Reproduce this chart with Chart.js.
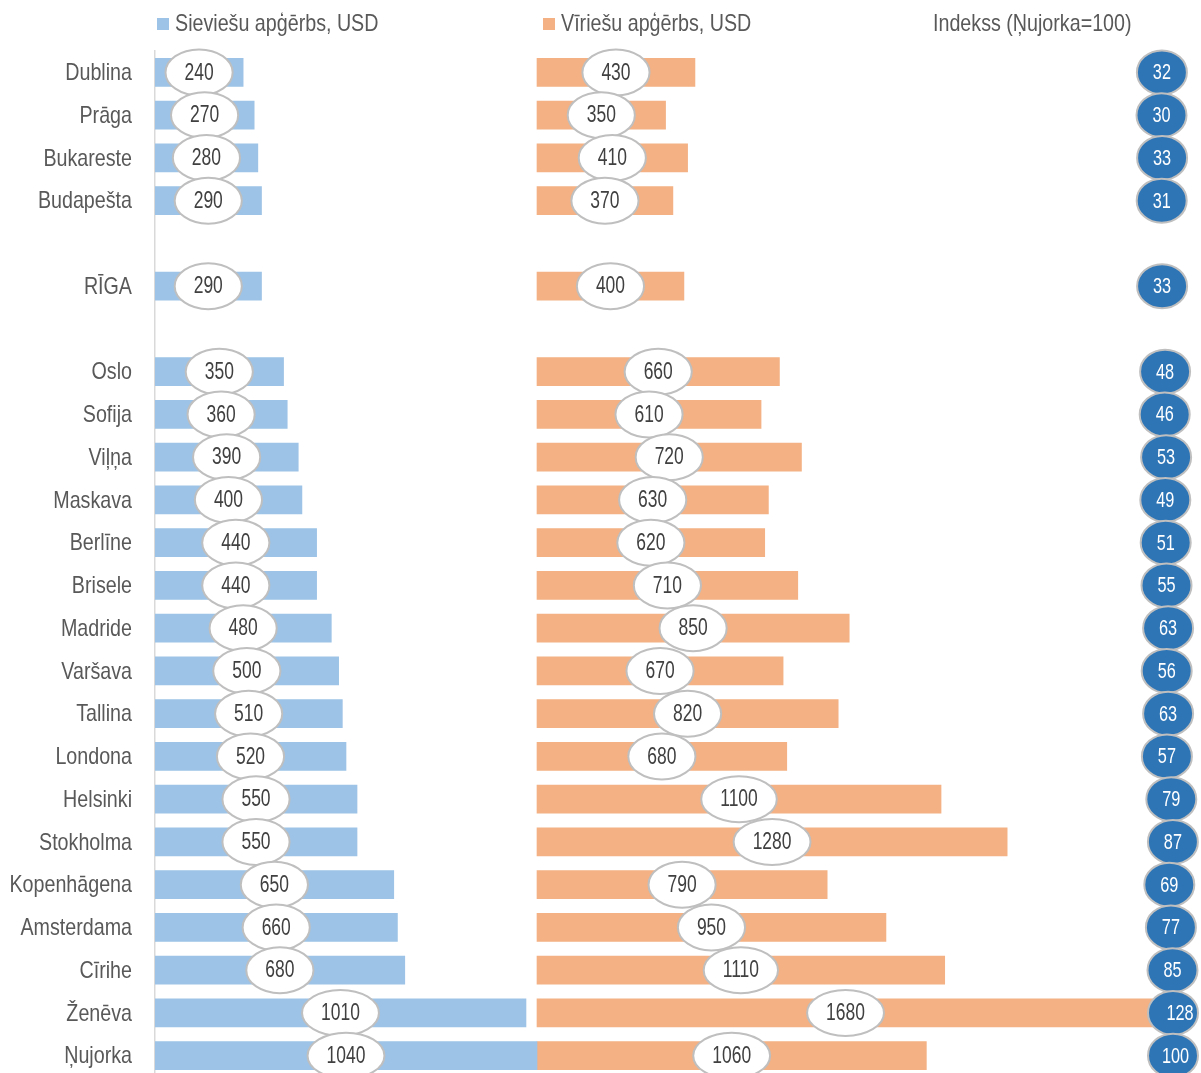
<!DOCTYPE html>
<html>
<head>
<meta charset="utf-8">
<script src="https://cdn.jsdelivr.net/npm/chart.js@4.4.1/dist/chart.umd.min.js"></script>
<style>
  html, body { margin: 0; padding: 0; background: #ffffff; overflow: hidden; }
  #wrap { width: 1201px; height: 1077px; }
</style>
</head>
<body>
<div id="wrap"><canvas id="c" width="1201" height="1077"></canvas></div>
<script>
// ---- data ----
const categories = ['Dublina', 'Prāga', 'Bukareste', 'Budapešta', '', 'RĪGA', '', 'Oslo', 'Sofija', 'Viļņa',
  'Maskava', 'Berlīne', 'Brisele', 'Madride', 'Varšava', 'Tallina', 'Londona', 'Helsinki', 'Stokholma',
  'Kopenhāgena', 'Amsterdama', 'Cīrihe', 'Ženēva', 'Ņujorka'];
const womenUSD = [240, 270, 280, 290, null, 290, null, 350, 360, 390, 400, 440, 440, 480, 500, 510, 520, 550, 550,
  650, 660, 680, 1010, 1040];
const menUSD = [430, 350, 410, 370, null, 400, null, 660, 610, 720, 630, 620, 710, 850, 670, 820, 680, 1100, 1280,
  790, 950, 1110, 1680, 1060];
const indexNY = [32, 30, 33, 31, null, 33, null, 48, 46, 53, 49, 51, 55, 63, 56, 63, 57, 79, 87,
  69, 77, 85, 128, 100];
const seriesNames = ['Sieviešu apģērbs, USD', 'Vīriešu apģērbs, USD', 'Indekss (Ņujorka=100)'];

// ---- styles ----
const FONT = "'Liberation Sans', Arial, sans-serif";
const BLUE = '#9DC3E6', ORANGE = '#F4B183', DARK = '#2E75B6', GREY = '#595959';

// narrow text (Arial Narrow look): horizontally condensed glyphs
function narrowText(ctx, text, x, y, size, sx, align, color) {
  ctx.save();
  ctx.font = size + 'px ' + FONT;
  ctx.textBaseline = 'middle';
  ctx.textAlign = align;
  ctx.fillStyle = color;
  ctx.translate(x, y);
  ctx.scale(sx, 1);
  ctx.fillText(text, 0, 0);
  ctx.restore();
}
function narrowWidth(ctx, text, size, sx) {
  ctx.save();
  ctx.font = size + 'px ' + FONT;
  const w = ctx.measureText(text).width * sx;
  ctx.restore();
  return w;
}

const ovalLabels = {
  id: 'ovalLabels',
  afterDatasetsDraw(chart) {
    const ctx = chart.ctx;
    [0, 1].forEach(di => {
      const meta = chart.getDatasetMeta(di);
      const data = chart.data.datasets[di].data;
      meta.data.forEach((el, i) => {
        const v = data[i];
        if (v == null) return;
        const cx = (el.x + el.base) / 2, cy = el.y;
        const t = String(v);
        const w = narrowWidth(ctx, t, 23, 0.76) + 38;
        ctx.save();
        ctx.beginPath();
        ctx.ellipse(cx, cy, w / 2, 23, 0, 0, Math.PI * 2);
        ctx.fillStyle = '#ffffff';
        ctx.fill();
        ctx.lineWidth = 2;
        ctx.strokeStyle = '#BFBFBF';
        ctx.stroke();
        ctx.restore();
        narrowText(ctx, t, cx, cy + 1, 23, 0.76, 'center', '#404040');
      });
    });
    const meta = chart.getDatasetMeta(2);
    const data = chart.data.datasets[2].data;
    const right = chart.chartArea.right;
    meta.data.forEach((el, i) => {
      const v = data[i];
      if (v == null) return;
      const cy = el.y;
      const ex = Math.min(el.x, right - 28);
      const tx = Math.min(el.x, right - 21);
      ctx.save();
      ctx.beginPath();
      ctx.ellipse(ex, cy, 25, 22, 0, 0, Math.PI * 2);
      ctx.fillStyle = DARK;
      ctx.fill();
      ctx.lineWidth = 2;
      ctx.strokeStyle = '#BFBFBF';
      ctx.stroke();
      ctx.restore();
      narrowText(ctx, String(v), tx, cy + 1, 22, 0.74, 'center', '#ffffff');
    });
  }
};

const catLabels = {
  id: 'catLabels',
  afterDraw(chart) {
    const ys = chart.scales.y;
    ys.ticks.forEach((tk, i) => {
      const label = ys.getLabelForValue(tk.value);
      if (!label) return;
      narrowText(chart.ctx, label, ys.right - 23, ys.getPixelForTick(i) + 1, 24, 0.82, 'right', GREY);
    });
  }
};

const topLegend = {
  id: 'topLegend',
  afterDraw(chart) {
    const ctx = chart.ctx;
    const y = 24;
    const items = [
      { box: BLUE, bx: 157, tx: 175 },
      { box: ORANGE, bx: 543, tx: 561 },
      { box: null, bx: 0, tx: 933 }
    ];
    items.forEach((it, k) => {
      if (it.box) {
        ctx.save();
        ctx.fillStyle = it.box;
        ctx.fillRect(it.bx, y - 6, 12, 12);
        ctx.restore();
      }
      narrowText(ctx, chart.data.datasets[k].label, it.tx, y, 24, 0.82, 'left', GREY);
    });
  }
};

// scale: 382 px per 1040 USD; chart area 1046 px wide
const usdPerPx = 1040 / 382;
const areaW = 1046;

new Chart(document.getElementById('c'), {
  type: 'bar',
  data: {
    labels: categories,
    datasets: [
      { label: seriesNames[0], data: womenUSD, xAxisID: 'xw', backgroundColor: BLUE, grouped: false, barThickness: 28 },
      { label: seriesNames[1], data: menUSD, xAxisID: 'xm', backgroundColor: ORANGE, grouped: false, barThickness: 28 },
      { label: seriesNames[2], data: indexNY, xAxisID: 'xi', backgroundColor: 'rgba(0,0,0,0)', grouped: false, barThickness: 28 }
    ]
  },
  options: {
    indexAxis: 'y',
    responsive: false,
    animation: false,
    devicePixelRatio: 1,
    layout: { padding: { top: 51, bottom: 0, left: 0, right: 0 } },
    plugins: { legend: { display: false }, tooltip: { enabled: false } },
    scales: {
      xw: { type: 'linear', display: false, min: 0, max: areaW * usdPerPx },
      xm: { type: 'linear', display: false, min: -1040, max: areaW * usdPerPx - 1040 },
      xi: { type: 'linear', display: false, min: -(1155.5 - 155) / 0.2, max: (1201 - 1155.5) / 0.2 },
      y: {
        type: 'category',
        offset: true,
        grid: { display: false, drawTicks: false },
        border: { display: true, color: '#D9D9D9', width: 1.5 },
        ticks: { display: false, autoSkip: false },
        afterFit(scale) { scale.width = 155; }
      }
    }
  },
  plugins: [ovalLabels, catLabels, topLegend]
});
</script>
</body>
</html>
